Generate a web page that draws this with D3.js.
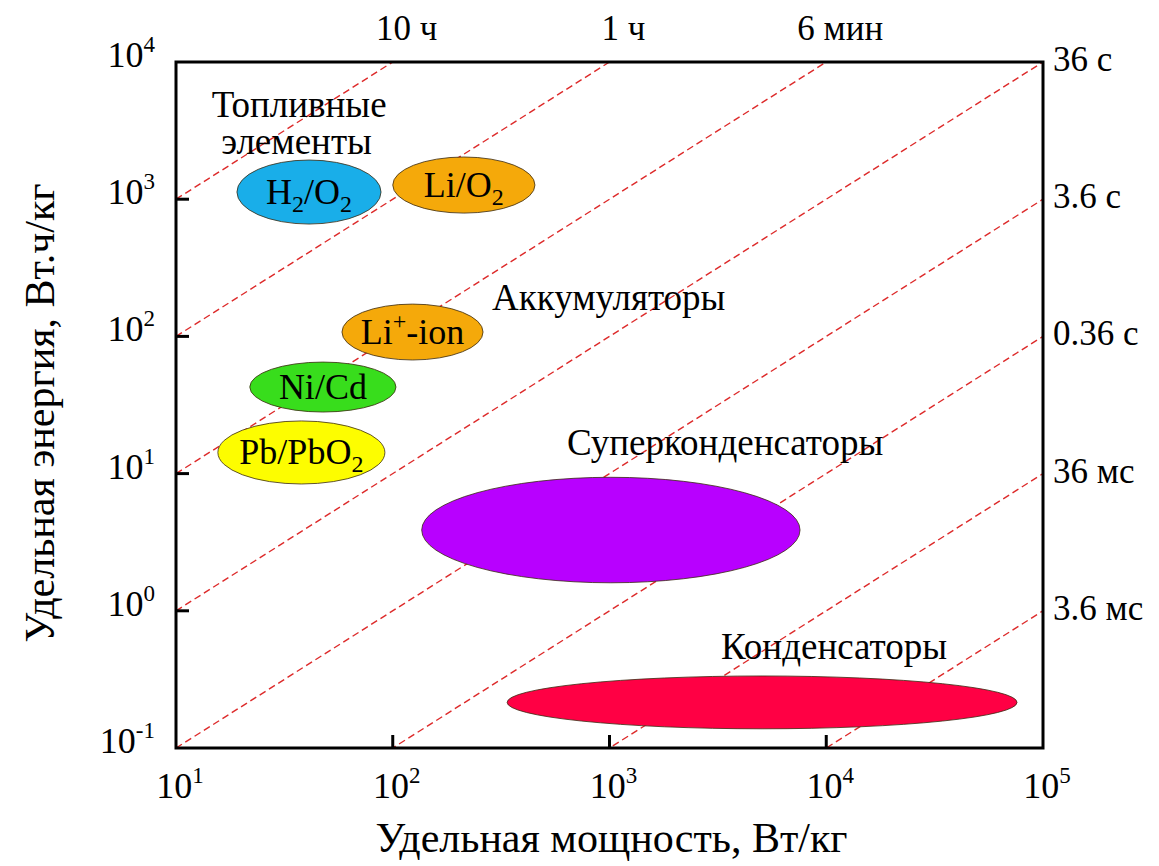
<!DOCTYPE html>
<html>
<head>
<meta charset="utf-8">
<script src="https://cdn.jsdelivr.net/npm/d3@7"></script>
<style>
  body { margin: 0; background: #fff; }
  svg text { font-family: "Liberation Serif", "DejaVu Serif", "Times New Roman", serif; fill: #000; }
</style>
</head>
<body>
<div id="chart"></div>
<script>
// axis ticks (log decades)
const powerTicks = [1e1, 1e2, 1e3, 1e4, 1e5];
const energyTicks = [1e-1, 1e0, 1e1, 1e2, 1e3, 1e4];

// constant discharge-time lines, E/P in hours
const timeRatios = [100, 10, 1, 0.1, 0.01, 1e-3, 1e-4, 1e-5];
const topLabels = ['10 ч', '1 ч', '6 мин'];          // for ratios 100, 10, 1
const rightLabels = ['36 с', '3.6 с', '0.36 с', '36 мс', '3.6 мс']; // for ratios 0.1 .. 1e-5

// technology regions: power range (Вт/кг) and energy range (Вт.ч/кг)
const techNames = ['H2/O2', 'Li/O2', 'Li+-ion', 'Ni/Cd', 'Pb/PbO2', 'super', 'cap'];
const techPower = [[19.1, 88.3], [100, 453], [58.3, 261], [21.9, 103.5], [15.6, 92], [136, 7570], [337, 75900]];
const techEnergy = [[659, 1930], [792, 2030], [67.3, 172], [28.1, 65], [8.4, 24.2], [1.6, 9.4], [0.138, 0.335]];
const techColors = ['#19aee9', '#f5a90a', '#f5a90a', '#38dd1c', '#fdfd00', '#b800ff', '#ff0044'];

// group captions
const groupNames = ['Аккумуляторы', 'Суперконденсаторы', 'Конденсаторы'];
const groupPos = [[287, 156], [637, 13.7], [3270, 0.446]];

const width = 1159, height = 866;
const margin = { top: 62, right: 116, bottom: 118, left: 176 };
const innerW = width - margin.left - margin.right;
const innerH = height - margin.top - margin.bottom;

const svg = d3.select('#chart').append('svg')
  .attr('width', width)
  .attr('height', height);

const g = svg.append('g')
  .attr('transform', `translate(${margin.left},${margin.top})`);

const x = d3.scaleLog().domain([1e1, 1e5]).range([0, innerW]);
const y = d3.scaleLog().domain([1e-1, 1e4]).range([innerH, 0]);

svg.append('defs').append('clipPath').attr('id', 'plot-clip')
  .append('rect').attr('width', innerW).attr('height', innerH);

// dashed discharge-time lines
const lineGen = d3.line().x(d => x(d[0])).y(d => y(d[1]));
g.append('g').attr('clip-path', 'url(#plot-clip)')
  .selectAll('path')
  .data(timeRatios)
  .enter().append('path')
  .attr('d', r => lineGen([[1e1, r * 1e1], [1e5, r * 1e5]]))
  .attr('fill', 'none')
  .attr('stroke', '#dd2a2a')
  .attr('stroke-width', 1.4)
  .attr('stroke-dasharray', '7,4');

// ellipses
const ell = g.selectAll('.tech')
  .data(techNames.map((n, i) => ({ n, p: techPower[i], e: techEnergy[i], c: techColors[i] })))
  .enter().append('g').attr('class', 'tech');

ell.append('ellipse')
  .attr('cx', d => (x(d.p[0]) + x(d.p[1])) / 2)
  .attr('cy', d => (y(d.e[0]) + y(d.e[1])) / 2)
  .attr('rx', d => (x(d.p[1]) - x(d.p[0])) / 2)
  .attr('ry', d => (y(d.e[0]) - y(d.e[1])) / 2)
  .attr('fill', d => d.c)
  .attr('stroke', '#3a2a10')
  .attr('stroke-width', 0.8);

// ellipse captions with sub/superscripts
function chemLabel(sel, parts, cx, cy) {
  const t = sel.append('text')
    .attr('x', cx).attr('y', cy + 12)
    .attr('text-anchor', 'middle')
    .style('font-size', '36px');
  parts.forEach(p => {
    const s = t.append('tspan').text(p[0]);
    if (p[1] === 'sub') s.attr('dy', 8).style('font-size', '24px');
    if (p[1] === 'sup') s.attr('dy', -15).style('font-size', '24px');
    if (p[1] === 'back') s.attr('dy', p[2]);
  });
}
const labelParts = {
  'H2/O2': [['H'], ['2', 'sub'], ['/O', 'back', -8], ['2', 'sub']],
  'Li/O2': [['Li/O'], ['2', 'sub']],
  'Li+-ion': [['Li'], ['+', 'sup'], ['-ion', 'back', 15]],
  'Ni/Cd': [['Ni/Cd']],
  'Pb/PbO2': [['Pb/PbO'], ['2', 'sub']]
};
ell.each(function (d) {
  if (!labelParts[d.n]) return;
  const cx = (x(d.p[0]) + x(d.p[1])) / 2;
  const cy = (y(d.e[0]) + y(d.e[1])) / 2;
  chemLabel(d3.select(this), labelParts[d.n], cx, cy);
});

// group captions
g.selectAll('.group-label')
  .data(groupNames)
  .enter().append('text')
  .attr('class', 'group-label')
  .attr('x', (d, i) => x(groupPos[i][0]))
  .attr('y', (d, i) => y(groupPos[i][1]))
  .style('font-size', '37px')
  .text(d => d);

const fuel = g.append('text')
  .attr('text-anchor', 'middle')
  .style('font-size', '37px');
fuel.append('tspan').attr('x', x(37)).attr('y', y(4000)).text('Топливные');
fuel.append('tspan').attr('x', x(36)).attr('y', y(2140)).text('элементы');

// frame
g.append('rect')
  .attr('width', innerW).attr('height', innerH)
  .attr('fill', 'none').attr('stroke', '#000').attr('stroke-width', 3);

// inner ticks
g.selectAll('.ytick')
  .data(energyTicks.slice(1, -1))
  .enter().append('line')
  .attr('x1', 0).attr('x2', 13)
  .attr('y1', d => y(d)).attr('y2', d => y(d))
  .attr('stroke', '#000').attr('stroke-width', 3);
g.selectAll('.xtick')
  .data(powerTicks.slice(1, -1))
  .enter().append('line')
  .attr('x1', d => x(d)).attr('x2', d => x(d))
  .attr('y1', innerH).attr('y2', innerH - 13)
  .attr('stroke', '#000').attr('stroke-width', 3);

// tick labels 10^n
function powLabel(sel, v) {
  const e = Math.round(Math.log10(v));
  sel.append('tspan').text('10');
  sel.append('tspan').attr('dy', -15).style('font-size', '23px').text(e < 0 ? '-' + Math.abs(e) : e);
}
g.selectAll('.ylab')
  .data(energyTicks)
  .enter().append('text')
  .attr('x', -21).attr('y', d => y(d) + 5)
  .attr('text-anchor', 'end')
  .style('font-size', '36px')
  .each(function (d) { powLabel(d3.select(this), d); });

g.selectAll('.xlab')
  .data(powerTicks)
  .enter().append('text')
  .attr('x', d => x(d) + 4).attr('y', innerH + 50)
  .attr('text-anchor', 'middle')
  .style('font-size', '36px')
  .each(function (d) { powLabel(d3.select(this), d); });

// time labels on top and right
g.selectAll('.toplab')
  .data(topLabels)
  .enter().append('text')
  .attr('x', (d, i) => x(1e4 / timeRatios[i]) + 14)
  .attr('y', -22)
  .attr('text-anchor', 'middle')
  .style('font-size', '35px')
  .text(d => d);

g.selectAll('.rightlab')
  .data(rightLabels)
  .enter().append('text')
  .attr('x', innerW + 10)
  .attr('y', (d, i) => y(1e5 * timeRatios[i + 3]) + 9)
  .style('font-size', '35px')
  .text(d => d);

// axis titles
g.append('text')
  .attr('x', innerW / 2 + 2)
  .attr('y', innerH + 104)
  .attr('text-anchor', 'middle')
  .style('font-size', '42px')
  .text('Удельная мощность, Вт/кг');

g.append('text')
  .attr('transform', `translate(${-margin.left + 54},${innerH / 2 + 8}) rotate(-90)`)
  .attr('text-anchor', 'middle')
  .style('font-size', '42px')
  .text('Удельная энергия, Вт.ч/кг');
</script>
</body>
</html>
